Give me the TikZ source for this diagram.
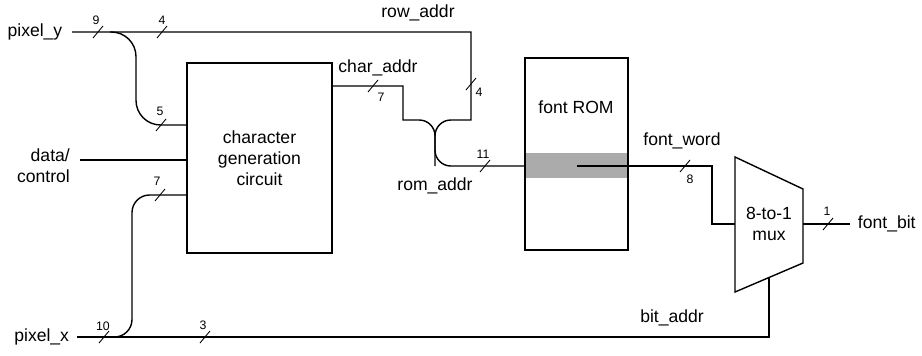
\documentclass[tikz,border=0pt]{standalone}
\usepackage{fontspec}
\setmainfont{Liberation Sans}
\usepackage{tikz}
\usetikzlibrary{positioning, calc}

\definecolor{BandGray}{HTML}{ABABAB}

\tikzset{
  block/.style={draw, line width=0.8pt, inner sep=0pt, outer sep=0pt},
  wire/.style={line width=0.8pt},
  slash/.style={line width=0.5pt},
  buslbl/.style={font=\fontsize{7}{8}\selectfont, inner sep=1pt},
}

% bus width mark: name, position, width, label position
\newcommand{\buswidth}[4]{%
  \draw[slash] (#2) ++(-5,6) -- ++(10,-12);
  \node[buslbl] (#1) at (#4) {#3};}

\begin{document}
\begin{tikzpicture}[x=0.02cm, y=-0.02cm, every node/.style={font=\fontsize{10}{12}\selectfont}]
  \useasboundingbox (0,0) rectangle (922,355);

  % Blocs
  \node[block, minimum width=2.9cm, minimum height=3.8cm, align=center] (cgc) at (259.5,158) {character\\generation\\circuit};
  \fill[BandGray] (525,153) rectangle (628,178);
  \node[block, minimum width=2.06cm, minimum height=3.84cm] (rom) at (576.5,154) {};
  \node (romtxt) at (576,107) {font ROM};
  \coordinate (word) at (577,166);

  % Mux
  \coordinate (mux-a) at (735,157);
  \coordinate (mux-b) at (803,189);
  \coordinate (mux-c) at (803,263);
  \coordinate (mux-d) at (735,292);
  \draw[block] (mux-a) -- (mux-b) -- (mux-c) -- (mux-d) -- cycle;
  \node[align=center] (mux) at (769,224) {8-to-1\\mux};
  \coordinate (muxsel) at ($(mux-c)!0.5!(mux-d)$);

  % Entrees
  \coordinate (py) at (72,32);
  \coordinate (dc) at (80,160);
  \coordinate (px) at (77,337);
  \node[left=2pt of py] (pylbl) {pixel\_y};
  \node[anchor=east, align=right] (dclbl) at (76,166) {data/\\control};
  \node[left=1pt of px] (pxlbl) {pixel\_x};

  % row_addr et char_addr vers rom_addr
  \coordinate (rowturn) at (471,32);
  \coordinate (merge) at (435,120);
  \coordinate (romin) at (rom.west |- word);
  \coordinate (charout) at (cgc.east |- 0,86);
  \draw[wire] (py) -- (rowturn) -- (rowturn |- merge) [rounded corners=9] -- (merge) -- (merge |- romin) [sharp corners] -- (romin);
  \draw[wire] (charout) -- (403,86) -- (403,120) [rounded corners=9] -- (merge) -- (merge |- romin);
  \node (rowlbl) at (418,13) {row\_addr};
  \node (charlbl) at (378,68) {char\_addr};
  \node (romlbl) at (435,186) {rom\_addr};

  % Branches vers le circuit
  \draw[wire, rounded corners=14] (110,32) -- (136,32) -- (136,125) -- (cgc.west |- 0,125);
  \draw[wire] (dc) -- (cgc.west |- dc);
  \draw[wire, rounded corners=10] (118,337) -- (132,337) -- (132,195) -- (cgc.west |- 0,195);

  % pixel_x / bit_addr
  \draw[wire] (px) -| (muxsel);
  \node (bitlbl) at (672,318) {bit\_addr};

  % font_word et font_bit
  \coordinate (muxin) at (mux-a |- mux.center);
  \coordinate (muxout) at (mux-b |- mux.center);
  \coordinate (fb) at (850,224);
  \draw[wire] (word) -- (712,166) |- (muxin);
  \draw[wire] (muxout) -- (fb);
  \node (wordlbl) at (682,141) {font\_word};
  \node[right=1pt of fb] (fblbl) {font\_bit};

  % Largeurs de bus
  \buswidth{w9}{98,32}{9}{96,20}
  \buswidth{w4a}{162,32}{4}{162,20}
  \buswidth{w5}{161,125}{5}{160,111}
  \buswidth{w7a}{160,195}{7}{157,181}
  \buswidth{w10}{104,337}{10}{103,326}
  \buswidth{w3}{205,337}{3}{203,325}
  \buswidth{w7b}{373,86}{7}{381,97}
  \buswidth{w4b}{471,84}{4}{479,92}
  \buswidth{w11}{485,166}{11}{483,154}
  \buswidth{w8}{685,166}{8}{690,179}
  \buswidth{w1}{828,224}{1}{827,211}
\end{tikzpicture}
\end{document}
